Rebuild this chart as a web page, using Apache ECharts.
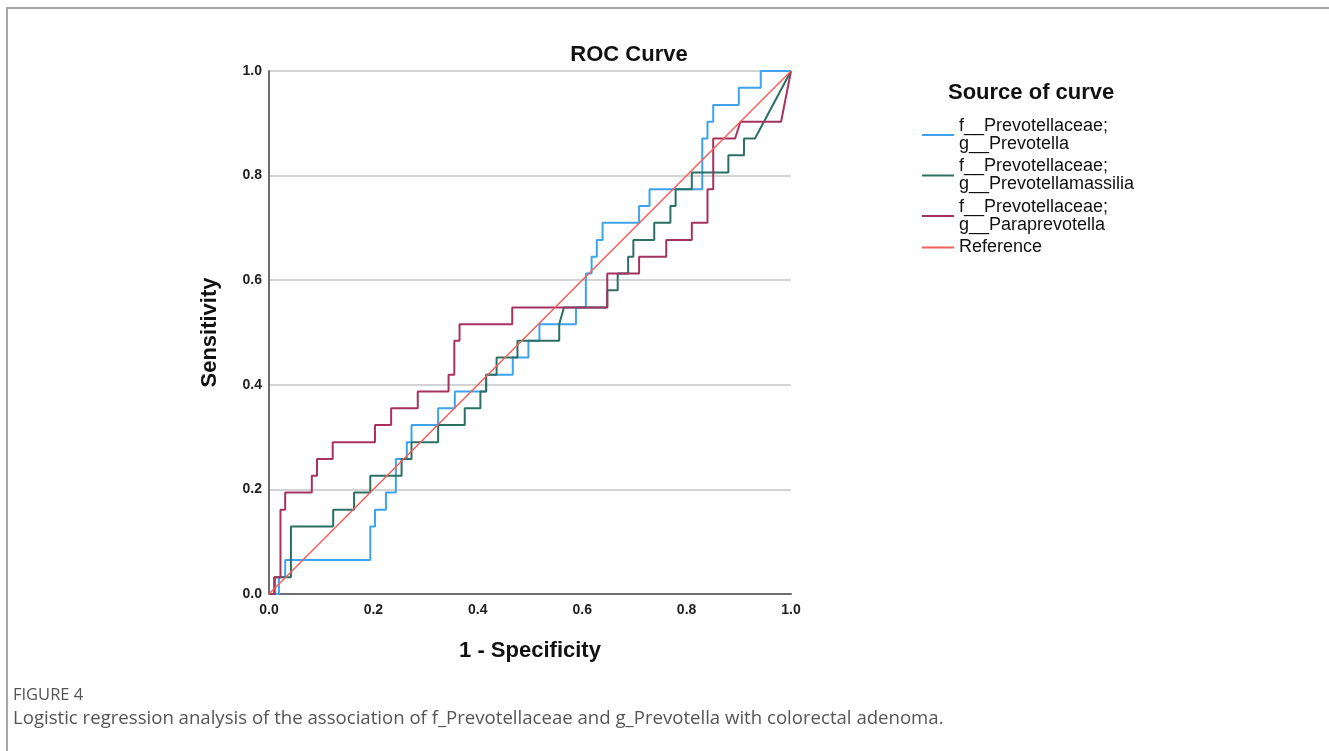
<!DOCTYPE html>
<html>
<head>
<meta charset="utf-8">
<script src="https://cdn.jsdelivr.net/npm/echarts@6/dist/echarts.min.js"></script>
<style>
html,body{margin:0;padding:0;background:#fff;}
#chart{width:1329px;height:751px;}
</style>
</head>
<body>
<div id="chart"></div>
<script>
// ---- data ----
const xTicks = [0, 0.2, 0.4, 0.6, 0.8, 1.0];
const seriesNames = [
  'f__Prevotellaceae;\ng__Prevotella',
  'f__Prevotellaceae;\ng__Prevotellamassilia',
  'f__Prevotellaceae;\ng__Paraprevotella',
  'Reference'
];
// f__Prevotellaceae; g__Prevotella
const prevotellaFpr = [0,0.019,0.019,0.031,0.031,0.194,0.194,0.203,0.203,0.224,0.224,0.243,0.243,0.264,0.264,0.273,0.273,0.324,0.324,0.356,0.356,0.416,0.416,0.467,0.467,0.497,0.497,0.518,0.518,0.588,0.588,0.607,0.607,0.618,0.618,0.628,0.628,0.639,0.639,0.709,0.709,0.729,0.729,0.830,0.830,0.840,0.840,0.851,0.851,0.900,0.900,0.942,0.942,1];
const prevotellaTpr = [0,0,0.032,0.032,0.065,0.065,0.129,0.129,0.161,0.161,0.194,0.194,0.258,0.258,0.290,0.290,0.323,0.323,0.355,0.355,0.387,0.387,0.419,0.419,0.452,0.452,0.484,0.484,0.516,0.516,0.548,0.548,0.613,0.613,0.645,0.645,0.677,0.677,0.710,0.710,0.742,0.742,0.774,0.774,0.871,0.871,0.903,0.903,0.935,0.935,0.968,0.968,1,1];
// f__Prevotellaceae; g__Prevotellamassilia
const massiliaFpr = [0,0.011,0.011,0.042,0.042,0.123,0.123,0.163,0.163,0.194,0.194,0.254,0.254,0.273,0.273,0.324,0.324,0.375,0.375,0.405,0.405,0.416,0.416,0.436,0.436,0.476,0.476,0.556,0.556,0.565,0.648,0.648,0.668,0.668,0.688,0.688,0.698,0.698,0.738,0.738,0.769,0.769,0.779,0.779,0.810,0.810,0.880,0.880,0.910,0.910,0.931,1];
const massiliaTpr = [0,0,0.032,0.032,0.129,0.129,0.161,0.161,0.194,0.194,0.226,0.226,0.258,0.258,0.290,0.290,0.323,0.323,0.355,0.355,0.387,0.387,0.419,0.419,0.452,0.452,0.484,0.484,0.516,0.548,0.548,0.581,0.581,0.613,0.613,0.645,0.645,0.677,0.677,0.710,0.710,0.742,0.742,0.774,0.774,0.806,0.806,0.839,0.839,0.871,0.871,1];
// f__Prevotellaceae; g__Paraprevotella
const paraFpr = [0,0.010,0.010,0.022,0.022,0.031,0.031,0.082,0.082,0.092,0.092,0.122,0.122,0.203,0.203,0.234,0.234,0.285,0.285,0.344,0.344,0.355,0.355,0.365,0.365,0.466,0.466,0.648,0.648,0.709,0.709,0.761,0.761,0.810,0.810,0.840,0.840,0.851,0.851,0.893,0.903,0.981,1];
const paraTpr = [0,0,0.032,0.032,0.161,0.161,0.194,0.194,0.226,0.226,0.258,0.258,0.290,0.290,0.323,0.323,0.355,0.355,0.387,0.387,0.419,0.419,0.484,0.484,0.516,0.516,0.548,0.548,0.613,0.613,0.645,0.645,0.677,0.677,0.710,0.710,0.774,0.774,0.871,0.871,0.903,0.903,1];
// reference diagonal
const refFpr = [0, 1];
const refTpr = [0, 1];

const colors = ['#3da3ee', '#2b7063', '#a6325f', '#f25f5c'];
const zip = (a, b) => a.map((v, i) => [v, b[i]]);
const curves = [
  zip(prevotellaFpr, prevotellaTpr),
  zip(massiliaFpr, massiliaTpr),
  zip(paraFpr, paraTpr),
  zip(refFpr, refTpr)
];

const FONT = 'Liberation Sans, Arial, sans-serif';
const chart = echarts.init(document.getElementById('chart'));
chart.setOption({
  animation: false,
  backgroundColor: '#fff',
  title: [
    {text: 'ROC Curve', left: 629, top: 44, textAlign: 'center', padding: 0,
     textStyle: {fontFamily: FONT, fontSize: 22, fontWeight: 'bold', color: '#111'}},
    {text: 'Source of curve', left: 948, top: 82, padding: 0,
     textStyle: {fontFamily: FONT, fontSize: 22, fontWeight: 'bold', color: '#111'}}
  ],
  legend: {
    orient: 'vertical', left: 922, top: 117, padding: 0, itemGap: 4.5,
    icon: 'rect', itemWidth: 32, itemHeight: 2,
    data: seriesNames,
    textStyle: {fontFamily: FONT, fontSize: 18, lineHeight: 18, color: '#111'}
  },
  grid: {left: 269, top: 71, width: 522, height: 523, containLabel: false},
  xAxis: {
    type: 'value', min: 0, max: 1, interval: 0.2,
    name: '1 - Specificity', nameLocation: 'middle', nameGap: 46,
    nameTextStyle: {fontFamily: FONT, fontSize: 22, fontWeight: 'bold', color: '#111'},
    axisLine: {show: true, lineStyle: {color: '#6e6e6e', width: 2}},
    axisTick: {show: false},
    splitLine: {show: false},
    axisLabel: {margin: 9, fontFamily: FONT, fontSize: 14, fontWeight: 'bold', color: '#222',
      formatter: v => v.toFixed(1)}
  },
  yAxis: {
    type: 'value', min: 0, max: 1, interval: 0.2,
    name: 'Sensitivity', nameLocation: 'middle', nameGap: 48,
    nameTextStyle: {fontFamily: FONT, fontSize: 22, fontWeight: 'bold', color: '#111'},
    axisLine: {show: true, lineStyle: {color: '#6e6e6e', width: 2}},
    axisTick: {show: false},
    splitLine: {show: true, lineStyle: {color: '#c4c4c4', width: 1.5}},
    axisLabel: {margin: 7, fontFamily: FONT, fontSize: 14, fontWeight: 'bold', color: '#222',
      formatter: v => v.toFixed(1)}
  },
  series: curves.map((d, i) => ({
    name: seriesNames[i], type: 'line', data: d, symbol: 'none', showSymbol: false,
    color: colors[i],
    lineStyle: {color: colors[i], width: i === 3 ? 1.5 : 2},
    z: 2 + i
  })),
  graphic: [
    {type: 'polyline', silent: true, shape: {points: [[7, 751], [7, 8], [1329, 8]]},
     style: {stroke: '#a6a6a6', lineWidth: 2, fill: null}},
    {type: 'text', left: 13, top: 687,
     style: {text: 'FIGURE 4', font: '16.5px "Open Sans", Lato, sans-serif', fill: '#555'}},
    {type: 'text', left: 13, top: 709,
     style: {text: 'Logistic regression analysis of the association of f_Prevotellaceae and g_Prevotella with colorectal adenoma.',
       font: '18.6px "Open Sans", Lato, sans-serif', fill: '#555'}}
  ]
});
</script>
</body>
</html>
